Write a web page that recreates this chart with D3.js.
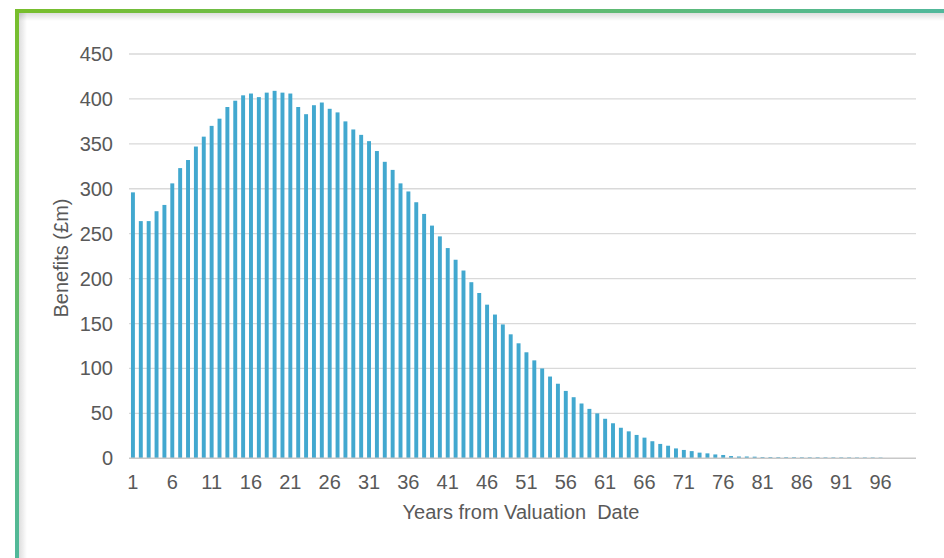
<!DOCTYPE html>
<html>
<head>
<meta charset="utf-8">
<script src="https://cdn.jsdelivr.net/npm/d3@7"></script>
<style>
  html, body { margin: 0; padding: 0; background: #fff; }
  svg { display: block; font-family: "Liberation Sans", Arial, sans-serif; }
</style>
</head>
<body>
<div id="chart"></div>
<script>
// benefit cashflows by year (£m)
const years = d3.range(1, 101);
const benefits = [
  296, 264, 264, 275, 282, 306, 323, 332, 347, 358,
  370, 378, 391, 398, 404, 406, 402, 407, 409, 407,
  406, 391, 383, 393, 396, 389, 385, 375, 366, 360,
  353, 342, 330, 321, 306, 297, 285, 272, 259, 247,
  234, 221, 209, 196, 184, 171, 160, 149, 138, 128,
  118, 109, 100, 91, 83, 75, 68, 61, 55, 50,
  44, 39, 34, 30, 26, 23, 19, 16, 14, 11,
  9.3, 8, 6.3, 5.5, 4.3, 3.7, 2.5, 2, 2, 1.8,
  1.3, 1.3, 1.2, 1.2, 1.2, 1.1, 1.1, 1.1, 1, 1,
  1, 1, 0.9, 0.9, 0.9, 0.8, 0, 0, 0, 0
];
const yTicks = [0, 50, 100, 150, 200, 250, 300, 350, 400, 450];
const xTickLabels = years.filter(d => (d - 1) % 5 === 0);

const width = 944, height = 558;
const plot = { left: 129, right: 916, top: 54, bottom: 458.3 };

const svg = d3.select("#chart").append("svg")
  .attr("width", width)
  .attr("height", height);

const defs = svg.append("defs");
const frameGrad = defs.append("linearGradient")
  .attr("id", "frameGrad")
  .attr("x1", 0).attr("y1", 0).attr("x2", 1).attr("y2", 1);
frameGrad.append("stop").attr("offset", "0").attr("stop-color", "#78be2c");
frameGrad.append("stop").attr("offset", "0.5").attr("stop-color", "#50b89d");
frameGrad.append("stop").attr("offset", "1").attr("stop-color", "#45b4b0");

const shadowV = defs.append("linearGradient")
  .attr("id", "shadowV").attr("x1", 0).attr("y1", 0).attr("x2", 0).attr("y2", 1);
shadowV.append("stop").attr("offset", "0").attr("stop-color", "#000").attr("stop-opacity", 0.13);
shadowV.append("stop").attr("offset", "1").attr("stop-color", "#000").attr("stop-opacity", 0);
const shadowH = defs.append("linearGradient")
  .attr("id", "shadowH").attr("x1", 0).attr("y1", 0).attr("x2", 1).attr("y2", 0);
shadowH.append("stop").attr("offset", "0").attr("stop-color", "#000").attr("stop-opacity", 0.13);
shadowH.append("stop").attr("offset", "1").attr("stop-color", "#000").attr("stop-opacity", 0);

// inner shadow of the frame
svg.append("rect").attr("x", 19).attr("y", 13).attr("width", width).attr("height", 8)
  .attr("fill", "url(#shadowV)");
svg.append("rect").attr("x", 19).attr("y", 13).attr("width", 8).attr("height", height)
  .attr("fill", "url(#shadowH)");

// green frame
svg.append("rect")
  .attr("x", 17).attr("y", 11)
  .attr("width", 940).attr("height", 560)
  .attr("fill", "none")
  .attr("stroke", "url(#frameGrad)")
  .attr("stroke-width", 4);

const x = d3.scaleBand()
  .domain(years)
  .range([plot.left, plot.right])
  .paddingInner(0.5)
  .paddingOuter(0.25);

const y = d3.scaleLinear()
  .domain([0, 450])
  .range([plot.bottom, plot.top]);

// gridlines
svg.append("g")
  .selectAll("line")
  .data(yTicks.filter(d => d > 0))
  .join("line")
  .attr("x1", plot.left).attr("x2", plot.right)
  .attr("y1", d => y(d)).attr("y2", d => y(d))
  .attr("stroke", "#d9d9d9")
  .attr("stroke-width", 1.3);

// bars
svg.append("g")
  .selectAll("rect")
  .data(benefits)
  .join("rect")
  .attr("x", (d, i) => x(years[i]))
  .attr("width", x.bandwidth())
  .attr("y", d => y(d))
  .attr("height", d => y(0) - y(d))
  .attr("fill", "#42a8cf");

// x axis line
svg.append("line")
  .attr("x1", plot.left).attr("x2", plot.right)
  .attr("y1", y(0)).attr("y2", y(0))
  .attr("stroke", "#c8c8c8")
  .attr("stroke-width", 1.5);

// y tick labels
svg.append("g")
  .selectAll("text")
  .data(yTicks)
  .join("text")
  .attr("x", 113)
  .attr("y", d => y(d))
  .attr("dy", "0.35em")
  .attr("text-anchor", "end")
  .attr("font-size", 20)
  .attr("fill", "#595959")
  .text(d => d);

// x tick labels
svg.append("g")
  .selectAll("text")
  .data(xTickLabels)
  .join("text")
  .attr("x", d => x(d) + x.bandwidth() / 2)
  .attr("y", 489)
  .attr("text-anchor", "middle")
  .attr("font-size", 20)
  .attr("fill", "#595959")
  .text(d => d);

// axis titles
svg.append("text")
  .attr("x", 521)
  .attr("y", 519)
  .attr("text-anchor", "middle")
  .attr("font-size", 20)
  .attr("fill", "#595959")
  .style("white-space", "pre")
  .text("Years from Valuation  Date");

svg.append("text")
  .attr("transform", "translate(68,258) rotate(-90)")
  .attr("text-anchor", "middle")
  .attr("font-size", 20)
  .attr("fill", "#595959")
  .text("Benefits (£m)");
</script>
</body>
</html>
